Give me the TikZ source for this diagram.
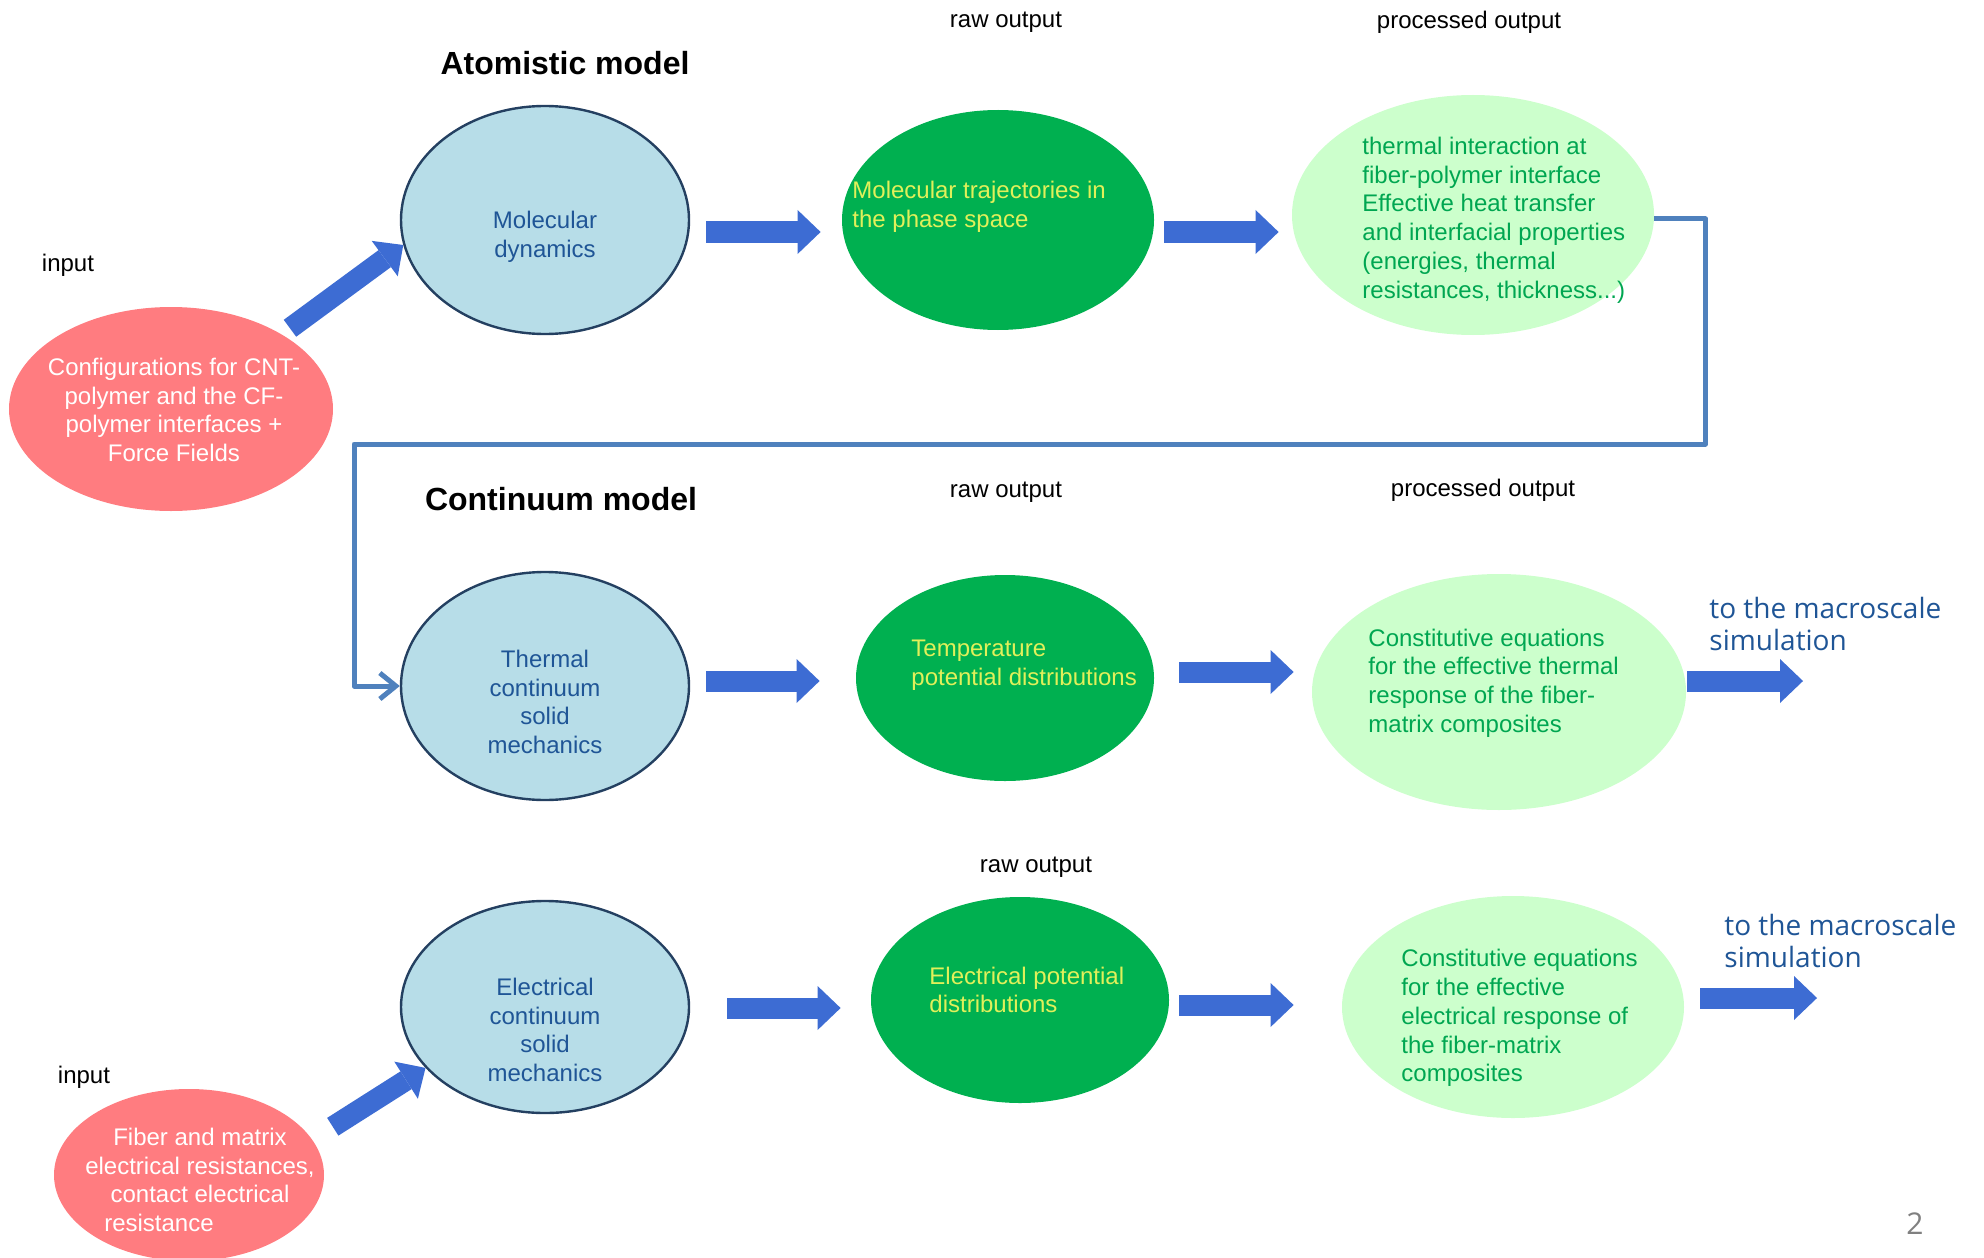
\documentclass[tikz,border=0pt]{standalone}
\usepackage{fontspec}
\setmainfont{Liberation Sans}
\newfontfamily\macrofont{Open Sans}
\usetikzlibrary{shapes.geometric,arrows.meta,calc}
\definecolor{lightblue}{RGB}{183,221,232}
\definecolor{navy}{RGB}{36,64,97}
\definecolor{rawgreen}{RGB}{0,176,80}
\definecolor{palegreen}{RGB}{204,255,204}
\definecolor{salmon}{RGB}{255,124,128}
\definecolor{arrowblue}{RGB}{61,108,211}
\definecolor{linkblue}{RGB}{79,129,189}
\definecolor{modeltext}{RGB}{31,85,150}
\definecolor{yellowtext}{RGB}{225,240,90}
\definecolor{proctext}{RGB}{0,166,81}

\begin{document}
\begin{tikzpicture}[x=0.5pt,y=-0.5pt,
	model node/.style={ellipse,draw=navy,line width=1.2pt,fill=lightblue},
	raw node/.style={ellipse,fill=rawgreen},
	proc node/.style={ellipse,fill=palegreen},
	input node/.style={ellipse,fill=salmon},
	txt/.style={inner sep=0pt,font=\fontsize{12}{14.4}\selectfont},
	title/.style={inner sep=0pt,font=\fontsize{16}{19}\selectfont\bfseries},
	macro/.style={inner sep=0pt,anchor=west,align=left,text=modeltext,font=\macrofont\fontsize{14}{16}\selectfont},
	big arrow/.style={draw=arrowblue,line width=10.5pt,-{Triangle[length=11.5pt,width=22pt,line width=0pt 0]}},
	link/.style={draw=linkblue,line width=2.5pt,line join=round,-{Straight Barb[length=8pt,width=13pt]}}
]
	\useasboundingbox (0,0) rectangle (1984,1257);

	\node[input node,minimum width=162pt,minimum height=102pt] (cfg) at (171,409) {};
	\node[model node,minimum width=144pt,minimum height=114pt] (md) at (545,220) {};
	\node[raw node,minimum width=156pt,minimum height=110pt] (traj) at (998,220) {};
	\node[proc node,minimum width=181pt,minimum height=120pt] (iface) at (1473,215) {};

	\node[model node,minimum width=144pt,minimum height=114pt] (therm) at (545,686) {};
	\node[raw node,minimum width=149pt,minimum height=103pt] (temp) at (1005,678) {};
	\node[proc node,minimum width=187pt,minimum height=118pt] (cth) at (1499,692) {};

	\node[model node,minimum width=144pt,minimum height=106pt] (elec) at (545,1007) {};
	\node[raw node,minimum width=149pt,minimum height=103pt] (epot) at (1020,1000) {};
	\node[proc node,minimum width=171pt,minimum height=111pt] (cel) at (1513,1007) {};
	\node[input node,minimum width=135pt,minimum height=86pt] (res) at (189,1175) {};

	\coordinate (outA) at (1803,681);
	\coordinate (outB) at (1817,998);
	\coordinate (turn) at (354,444);

	\draw[link] ([yshift=-2pt]iface.east) -- ++(51,0) |- (turn) |- (therm.west);

	\draw[big arrow,shorten <=5pt] (cfg.34) -- (md.190);
	\draw[big arrow] ($(md.east)+(16,12)$) -- ($(traj.west)+(-21,12)$);
	\draw[big arrow] ($(traj.east)+(10,12)$) -- ($(iface.west)+(-13,17)$);
	\draw[big arrow] ($(therm.east)+(16,-5)$) -- ($(temp.west)+(-36,3)$);
	\draw[big arrow] ($(temp.east)+(25,-6)$) -- ($(cth.west)+(-18,-20)$);
	\draw[big arrow] ($(cth.east)+(1,-11)$) -- (outA);
	\draw[big arrow] ($(elec.east)+(37,1)$) -- ($(epot.west)+(-30,8)$);
	\draw[big arrow] ($(epot.east)+(10,5)$) -- ($(cel.west)+(-48,-2)$);
	\draw[big arrow] ($(cel.east)+(16,-9)$) -- (outB);
	\draw[big arrow,shorten <=12pt] (res.16) -- (elec.207);

	\node[txt] (rawA) at (1006,22) {raw output};
	\node[txt] (procA) at (1469,22) {processed output};
	\node[title] (atom) at (565,63) {Atomistic model};
	\node[txt] (inA) at (68,265) {input};
	\node[txt,white,align=center] (cfgtext) at (174,410) {Configurations for CNT-\\polymer and the CF-\\polymer interfaces +\\Force Fields};
	\node[txt,modeltext,align=center] (mdtext) at (545,237) {Molecular\\dynamics};
	\node[txt,yellowtext,align=left,anchor=west] (trajtext) at (852,207) {Molecular trajectories in\\the phase space};
	\node[txt,proctext,align=left,anchor=west] (ifacetext) at (1362,220) {thermal interaction at\\fiber-polymer interface\\Effective heat transfer\\and interfacial properties\\(energies, thermal\\resistances, thickness...)};

	\node[txt] (rawB) at (1006,492) {raw output};
	\node[txt] (procB) at (1483,490) {processed output};
	\node[title] (cont) at (561,499) {Continuum model};
	\node[txt,modeltext,align=center] (thermtext) at (545,702) {Thermal\\continuum\\solid\\mechanics};
	\node[txt,yellowtext,align=left,anchor=west] (temptext) at (911,665) {Temperature\\potential distributions};
	\node[txt,proctext,align=left,anchor=west] (cthtext) at (1368,683) {Constitutive equations\\for the effective thermal\\response of the fiber-\\matrix composites};
	\node[macro] (macroA) at (1709,624) {to the macroscale\\simulation};

	\node[txt] (rawC) at (1036,867) {raw output};
	\node[txt] (inB) at (84,1077) {input};
	\node[txt,white,align=center] (restext) at (200,1180) {Fiber and matrix\\electrical resistances,\\contact electrical\\resistance\hspace*{41pt}\mbox{}};
	\node[txt,modeltext,align=center] (eltext) at (545,1030) {Electrical\\continuum\\solid\\mechanics};
	\node[txt,yellowtext,align=left,anchor=west] (epottext) at (929,990) {Electrical potential\\distributions};
	\node[txt,proctext,align=left,anchor=west] (celtext) at (1401,1018) {Constitutive equations\\for the effective\\electrical response of\\the fiber-matrix\\composites};
	\node[macro] (macroB) at (1724,941) {to the macroscale\\simulation};

	\node[inner sep=0pt,text=gray,font=\macrofont\fontsize{15}{18}\selectfont] (page) at (1915,1224) {2};
\end{tikzpicture}
\end{document}
